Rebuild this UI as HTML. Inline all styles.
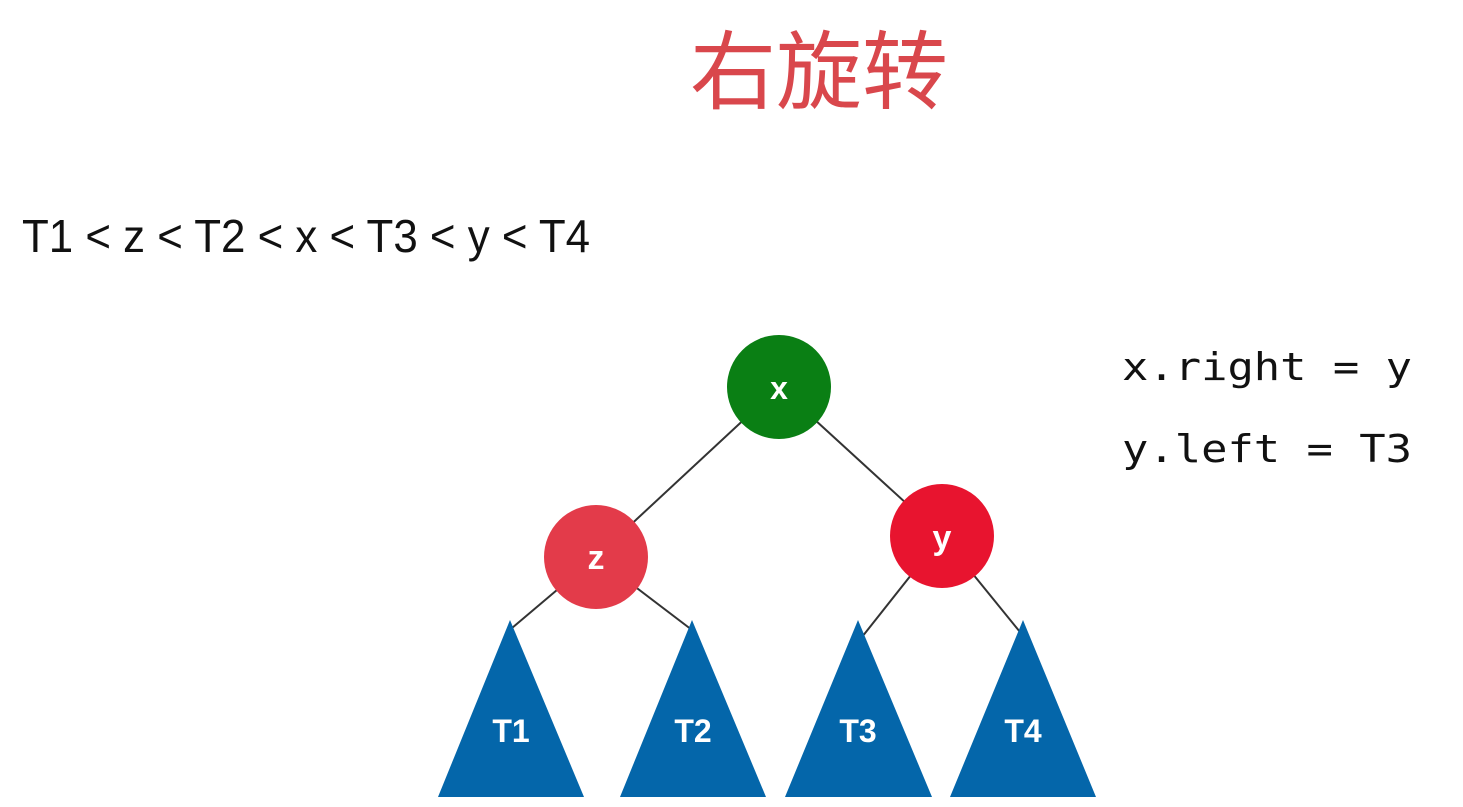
<!DOCTYPE html>
<html><head><meta charset="utf-8"><style>
html,body{margin:0;padding:0;background:#fff;}
svg{display:block;}
</style></head><body>
<svg width="1463" height="807" viewBox="0 0 1463 807" xmlns="http://www.w3.org/2000/svg">
<rect width="1463" height="807" fill="#fff"/>
<text x="690" y="102" font-family="'Noto Sans CJK SC', sans-serif" font-size="86" fill="#d9474c" textLength="258" lengthAdjust="spacingAndGlyphs">右旋转</text>
<text x="22" y="252" font-family="'Liberation Sans', Arial, sans-serif" font-size="46" fill="#111" textLength="568" lengthAdjust="spacingAndGlyphs">T1 &lt; z &lt; T2 &lt; x &lt; T3 &lt; y &lt; T4</text>
<text x="1122" y="380" font-family="'DejaVu Sans Mono', monospace" font-size="38" fill="#111" textLength="290" lengthAdjust="spacingAndGlyphs">x.right = y</text>
<text x="1122" y="462" font-family="'DejaVu Sans Mono', monospace" font-size="38" fill="#111" textLength="290" lengthAdjust="spacingAndGlyphs">y.left = T3</text>
<g stroke="#333" stroke-width="2">
<line x1="779" y1="387" x2="596" y2="557"/>
<line x1="779" y1="387" x2="942" y2="536"/>
<line x1="596" y1="557" x2="512" y2="628"/>
<line x1="596" y1="557" x2="692" y2="630"/>
<line x1="942" y1="536" x2="862" y2="637"/>
<line x1="942" y1="536" x2="1020" y2="632"/>
</g>
<circle cx="779" cy="387" r="52" fill="#0a7f14"/>
<circle cx="596" cy="557" r="52" fill="#e33b4a"/>
<circle cx="942" cy="536" r="52" fill="#e8142f"/>
<g fill="#0466aa">
<polygon points="510,620 584,797 438,797"/>
<polygon points="692,620 766,797 620,797"/>
<polygon points="858,620 932,797 785,797"/>
<polygon points="1023,620 1096,797 950,797"/>
</g>
<g font-family="'Liberation Sans', sans-serif" font-weight="bold" fill="#fff" text-anchor="middle">
<text x="779" y="399" font-size="32">x</text>
<text x="596" y="569" font-size="34">z</text>
<text x="942" y="549" font-size="34">y</text>
<text x="511" y="742" font-size="32">T1</text>
<text x="693" y="742" font-size="32">T2</text>
<text x="858" y="742" font-size="32">T3</text>
<text x="1023" y="742" font-size="32">T4</text>
</g>
</svg>
</body></html>
